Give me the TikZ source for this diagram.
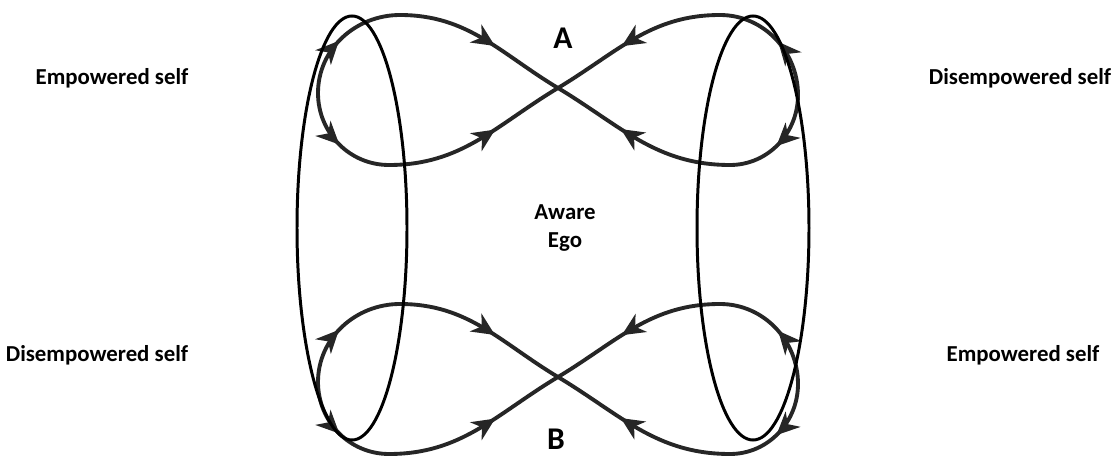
\documentclass[tikz,border=0pt]{standalone}
\usepackage{fontspec}
\setmainfont{Carlito}
\usetikzlibrary{arrows.meta}
\usetikzlibrary{decorations.markings}

\begin{document}
\begin{tikzpicture}[x=0.02cm, y=0.02cm,
  loopline/.style={draw=black!85, line width=2.2pt, postaction={decorate},
    decoration={markings,
      mark=at position 0.19 with {\arrow{Stealth[length=13pt, width=12pt, inset=4pt]}},
      mark=at position 0.75 with {\arrow{Stealth[length=13pt, width=12pt, inset=4pt]}}}},
  ring/.style={draw=black, line width=1.7pt},
  lbl/.style={font=\bfseries\fontsize{13}{16}\selectfont, align=center},
  big/.style={font=\bfseries\fontsize{18}{20}\selectfont}]
\useasboundingbox (0,0) rectangle (1113,457);

% the two figure eights
\foreach \dy/\n in {0/t, -289/b}
{
\coordinate (\n x) at (558, 369+\dy);
\coordinate (\n l) at (318, 364+\dy);
\coordinate (\n lt) at (400, 442+\dy);
\coordinate (\n lb) at (389, 292+\dy);
\coordinate (\n r) at (798, 362+\dy);
\coordinate (\n rt) at (720, 442+\dy);
\coordinate (\n rb) at (730, 292+\dy);
\draw[loopline] (\n l) to[out=90, in=180] (\n lt) to[out=0, in=149] (\n x);
\draw[loopline] (\n l) to[out=-90, in=180] (\n lb) to[out=0, in=-149] (\n x);
\draw[loopline] (\n r) to[out=90, in=0] (\n rt) to[out=180, in=31] (\n x);
\draw[loopline] (\n r) to[out=-90, in=0] (\n rb) to[out=180, in=-31] (\n x);
}

\draw[ring] (352,229) ellipse (55 and 212);
\draw[ring] (753,229) ellipse (56 and 212);

\node[big] (a) at (563, 419) {A};
\node[big] (b) at (556, 18) {B};
\node[lbl] (ego) at (565, 229) {Aware\\Ego};
\node[lbl] (emp1) at (112, 379) {Empowered self};
\node[lbl] (dis1) at (1020, 379) {Disempowered self};
\node[lbl] (dis2) at (97, 102) {Disempowered self};
\node[lbl] (emp2) at (1023, 102) {Empowered self};
\end{tikzpicture}
\end{document}
